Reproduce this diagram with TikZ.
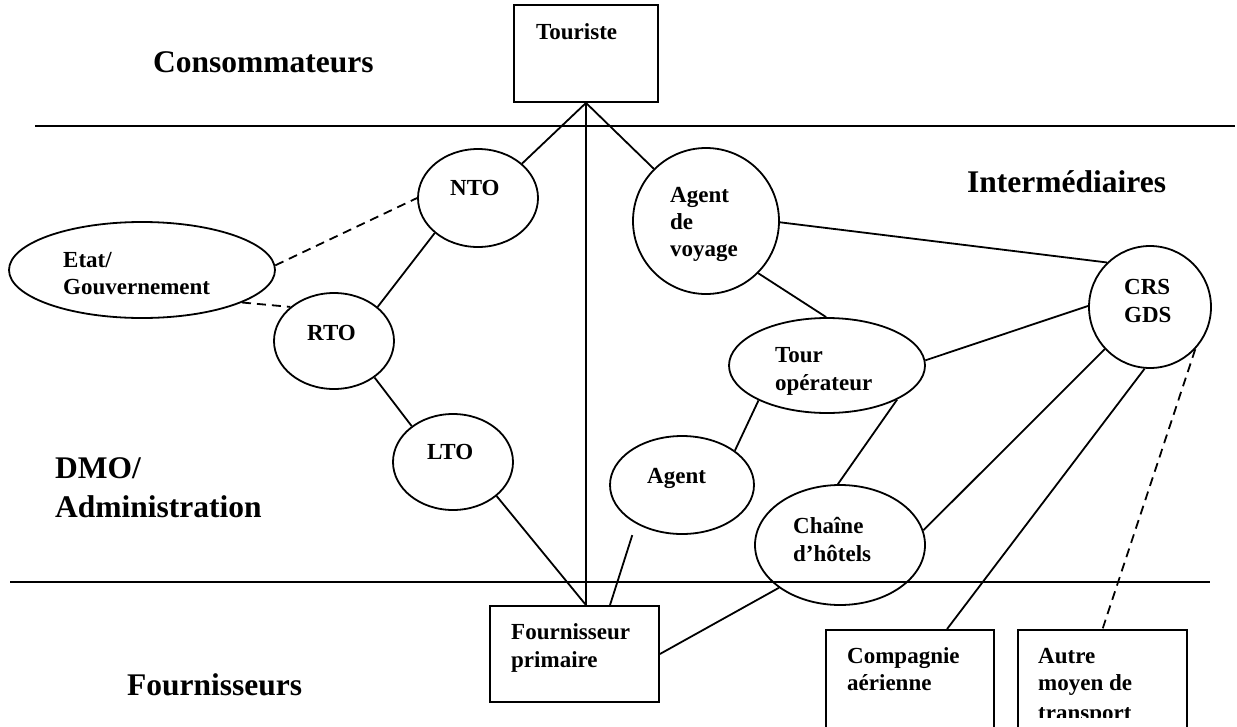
\documentclass[tikz,border=0pt]{standalone}
\usepackage{fontspec}
\setmainfont{Liberation Serif}
\usetikzlibrary{shapes.geometric,calc}
\begin{document}
\begin{tikzpicture}[x=1pt,y=-1pt,
  conn/.style={line width=1.8pt},
  dashconn/.style={line width=1.8pt,dash pattern=on 9pt off 6pt},
  ell/.style={draw,line width=1.8pt,ellipse,inner sep=0pt},
  boxnode/.style={draw,line width=1.8pt,rectangle,inner sep=0pt},
  lbl/.style={inner sep=0pt,anchor=base west,font=\fontsize{23}{27.6}\selectfont\bfseries},
  big/.style={inner sep=0pt,anchor=base west,font=\fontsize{31.5}{37.8}\selectfont\bfseries}]
\useasboundingbox (0,0) rectangle (1237,726);
\clip (0,0) rectangle (1237,726);

% separators
\draw[conn] (35,126) -- (1235,126);
\draw[conn] (10,582) -- (1210,582);

% shapes
\node[boxnode,minimum width=144pt,minimum height=97pt] (tour) at (586,53.5) {};
\node[ell,minimum width=120pt,minimum height=98pt] (nto) at (478,198) {};
\node[ell,minimum width=266pt,minimum height=96pt] (etat) at (142,270) {};
\node[ell,minimum width=120pt,minimum height=96pt] (rto) at (334,341) {};
\node[ell,minimum width=120pt,minimum height=96pt] (lto) at (453,462) {};
\node[ell,minimum width=146pt,minimum height=146pt] (adv) at (706,221) {};
\node[ell,minimum width=122pt,minimum height=122pt] (crs) at (1150,307) {};
\node[ell,minimum width=196pt,minimum height=95pt] (top) at (827,365.5) {};
\node[ell,minimum width=144pt,minimum height=98pt] (agent) at (682,485) {};
\node[ell,minimum width=170pt,minimum height=120pt] (hotel) at (840,545) {};
\node[boxnode,minimum width=169pt,minimum height=96pt] (fp) at (574.5,654) {};
\node[boxnode,minimum width=168pt,minimum height=140pt] (ca) at (910,700) {};
\node[boxnode,minimum width=169pt,minimum height=140pt] (am) at (1102.5,700) {};

% connectors
\draw[conn] (tour.south) -- ([xshift=11.5pt]fp.north);
\draw[conn] (tour.south) -- (nto.38.5);
\draw[conn] (tour.south) -- (adv.135.6);
\draw[dashconn] (etat.2) -- (nto.180);
\draw[dashconn] (etat.-18.6) -- (rto.142.3);
\draw[conn] (nto.219) -- (rto.38.3);
\draw[conn] (rto.-42.2) -- (lto.139.5);
\draw[conn] (lto.-38.5) -- ([xshift=11.5pt]fp.north);
\draw[conn,shorten >=12pt] ([xshift=35.5pt]fp.north) -- (agent.220);
\draw[conn] (agent.33.7) -- (top.207.2);
\draw[conn] (adv.-45) -- (top.91);
\draw[conn] (adv.-1) -- (crs.134.3);
\draw[conn] (top.3) -- (crs.179);
\draw[conn] (top.-26.9) -- (hotel.92);
\draw[conn] (hotel.215.6) -- (fp.east);
\draw[conn] (hotel.10) -- (crs.223.6);
\draw[conn] (crs.265) -- ([xshift=37pt]ca.north);
\draw[dashconn] (crs.-43) -- (am.north);

% texts
\node[lbl] (t1) at (536,39) {Touriste};
\node[big] (l1) at (153,72) {Consommateurs};
\node[big] (l2) at (967,192) {Intermédiaires};
\node[big] (l3) at (55,478) {DMO/};
\node[big] (l4) at (55,517) {Administration};
\node[big] (l5) at (127,695) {Fournisseurs};
\node[lbl] (t2) at (450,195) {NTO};
\node[lbl] (t3) at (63,267) {Etat/};
\node[lbl] (t4) at (63,294) {Gouvernement};
\node[lbl] (t5) at (307,340) {RTO};
\node[lbl] (t6) at (427,459) {LTO};
\node[lbl] (t7) at (670,202) {Agent};
\node[lbl] (t8) at (670,229) {de};
\node[lbl] (t9) at (670,256) {voyage};
\node[lbl] (t10) at (1124,294) {CRS};
\node[lbl] (t11) at (1124,322) {GDS};
\node[lbl] (t12) at (775,362) {Tour};
\node[lbl] (t13) at (775,390) {opérateur};
\node[lbl] (t14) at (647,483) {Agent};
\node[lbl] (t15) at (793,533) {Chaîne};
\node[lbl] (t16) at (793,561) {d’hôtels};
\node[lbl] (t17) at (511,639) {Fournisseur};
\node[lbl] (t18) at (511,667) {primaire};
\node[lbl] (t19) at (847,663) {Compagnie};
\node[lbl] (t20) at (847,690) {aérienne};
\node[lbl] (t21) at (1038,663) {Autre};
\node[lbl] (t22) at (1038,690) {moyen de};
\begin{scope}
  \clip (1020,695) rectangle (1185,717);
  \node[lbl] (t23) at (1038,720) {transport};
\end{scope}
\end{tikzpicture}
\end{document}
